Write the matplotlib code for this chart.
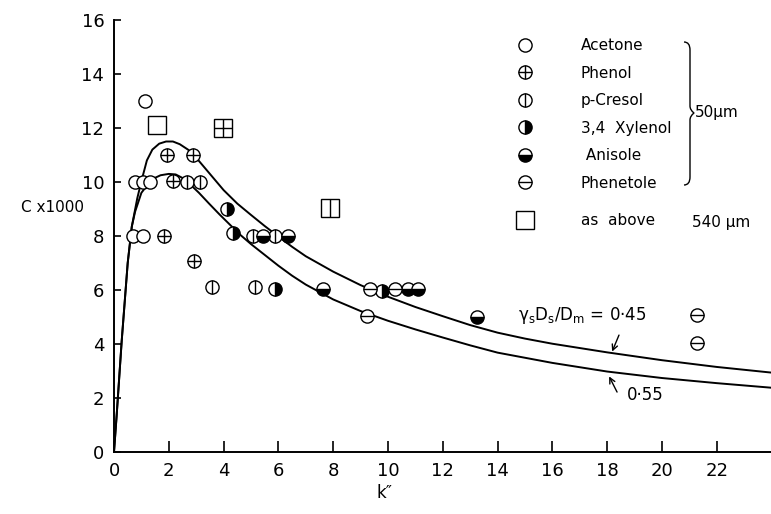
import matplotlib.pyplot as plt
from matplotlib.lines import Line2D
from matplotlib.legend_handler import HandlerTuple
from matplotlib.path import Path
from matplotlib.patches import PathPatch

plt.rcParams['font.family'] = ['DejaVu Sans']

# theory curves
upper_k = [0, 0.1, 0.28, 0.5, 0.65, 0.85, 1.01, 1.2, 1.4, 1.65, 1.9, 2.15, 2.4, 2.7, 3.0, 3.5,
           4.0, 4.5, 5.0, 5.5, 6.0, 6.5, 7.0, 8.0, 9.0, 10.0, 11.0, 12.0, 13.0, 14.0, 15.0,
           16.0, 18.0, 20.0, 22.0, 24.0]
upper_C = [0, 1.4, 4.1, 7.0, 8.35, 9.4, 10.07, 10.8, 11.2, 11.42, 11.5, 11.5, 11.4, 11.2, 10.9, 10.3,
           9.7, 9.2, 8.78, 8.37, 7.98, 7.6, 7.25, 6.68, 6.18, 5.75, 5.37, 5.03, 4.7, 4.42, 4.2,
           4.01, 3.69, 3.4, 3.15, 2.94]
lower_k = [0, 0.1, 0.28, 0.5, 0.65, 0.77, 1.0, 1.38, 1.7, 2.0, 2.25, 2.5, 2.74, 3.1, 3.47, 3.85,
           4.2, 4.6, 5.0, 5.5, 6.0, 6.5, 7.0, 8.0, 9.0, 10.0, 11.0, 12.0, 13.0, 14.0, 16.0,
           18.0, 20.0, 22.0, 24.0]
lower_C = [0, 1.4, 4.1, 7.0, 8.35, 8.9, 9.6, 10.1, 10.25, 10.3, 10.28, 10.15, 9.95, 9.6, 9.2, 8.8,
           8.45, 8.05, 7.7, 7.3, 6.9, 6.53, 6.2, 5.65, 5.22, 4.86, 4.54, 4.24, 3.95, 3.68, 3.3,
           2.98, 2.74, 2.55, 2.38]

# measured points, 50 um
acetone_k = [1.13, 0.77, 1.07, 1.31, 0.68, 1.05]
acetone_C = [13.0, 10.0, 10.0, 10.0, 8.0, 8.0]
phenol_k = [1.94, 2.9, 2.14, 1.82, 2.92]
phenol_C = [11.0, 11.0, 10.05, 8.0, 7.07]
cresol_k = [2.65, 3.14, 3.56, 5.08, 5.88, 5.15]
cresol_C = [10.0, 10.0, 6.1, 8.0, 8.0, 6.1]
xylenol_k = [4.11, 4.35, 5.88, 9.77]
xylenol_C = [9.0, 8.1, 6.05, 5.97]
anisole_k = [5.42, 6.35, 7.63, 10.73, 11.09, 13.25]
anisole_C = [8.0, 8.0, 6.05, 6.05, 6.05, 5.0]
phenetole_k = [9.34, 10.26, 9.23, 21.28, 21.28]
phenetole_C = [6.05, 6.05, 5.04, 5.07, 4.04]

# 540 um points
sq_plain_k, sq_plain_C = [1.58], [12.1]
sq_phenol_k, sq_phenol_C = [3.99], [12.0]
sq_cresol_k, sq_cresol_C = [7.88], [9.05]

W, H = 771, 514
fig = plt.figure(figsize=(W / 100, H / 100), dpi=100)
ax = fig.add_axes([114 / W, 1 - 452 / H, (W - 114) / W, 432 / H])

ax.plot(upper_k, upper_C, color='k', lw=1.4, zorder=2)
ax.plot(lower_k, lower_C, color='k', lw=1.4, zorder=2)

MS = 9.5
SQ = 13
EW = 1.0
z = [3.0]


def pts(k, c, marker='o', ms=MS, overlay=None, fill=None):
    if fill:
        ax.plot(k, c, ls='none', marker=marker, ms=ms, fillstyle=fill, mfc='k',
                markerfacecoloralt='white', mec='k', mew=EW, zorder=z[0])
    else:
        ax.plot(k, c, ls='none', marker=marker, ms=ms, mfc='white', mec='k', mew=EW, zorder=z[0])
    if overlay:
        ax.plot(k, c, ls='none', marker=overlay, ms=ms, mec='k', mew=EW, zorder=z[0] + 0.01)
    z[0] += 0.02


pts(acetone_k, acetone_C)
pts(phenol_k, phenol_C, overlay='+')
pts(cresol_k, cresol_C, overlay='|')
pts(xylenol_k, xylenol_C, fill='right')
pts(anisole_k, anisole_C, fill='bottom')
pts(phenetole_k, phenetole_C, overlay='_')
pts(sq_plain_k, sq_plain_C, marker='s', ms=SQ)
pts(sq_phenol_k, sq_phenol_C, marker='s', ms=SQ, overlay='+')
pts(sq_cresol_k, sq_cresol_C, marker='s', ms=SQ, overlay='|')

ax.set_xlim(0, (W - 114) / 27.4)
ax.set_ylim(0, 16)
ax.set_xticks(range(0, 23, 2))
ax.set_yticks(range(0, 17, 2))
for s in ['top', 'right']:
    ax.spines[s].set_visible(False)
for s in ['left', 'bottom']:
    ax.spines[s].set_linewidth(1.4)
ax.tick_params(axis='x', direction='in', length=8, width=1.2, labelsize=13, pad=7)
ax.tick_params(axis='y', direction='in', length=5, width=1.2, labelsize=13, pad=7)

ax.set_ylabel('C x1000', rotation=0, fontsize=11, ha='center', va='center')
ax.yaxis.set_label_coords(-0.093, 0.565)
ax.set_xlabel('k\u2033', fontsize=12, ha='center', va='center')
ax.xaxis.set_label_coords(0.412, -0.095)

# curve labels
ax.text(14.74, 5.07, r'γ$_{\rm s}$D$_{\rm s}$/D$_{\rm m}$ = 0·45', fontsize=12,
        ha='left', va='center')
ax.annotate('', xy=(18.18, 3.72), xytext=(18.43, 4.33),
            arrowprops=dict(arrowstyle='->', lw=1.0, color='k', shrinkA=0, shrinkB=0))
ax.text(18.72, 2.11, '0·55', fontsize=12, ha='left', va='center')
ax.annotate('', xy=(18.07, 2.8), xytext=(18.36, 2.22),
            arrowprops=dict(arrowstyle='->', lw=1.0, color='k', shrinkA=0, shrinkB=0))


# legend
def h(overlay=None, fill=None, marker='o', ms=MS):
    if fill:
        base = Line2D([], [], ls='none', marker=marker, ms=ms, fillstyle=fill, mfc='k',
                      markerfacecoloralt='white', mec='k', mew=EW)
    else:
        base = Line2D([], [], ls='none', marker=marker, ms=ms, mfc='white', mec='k', mew=EW)
    if overlay:
        return (base, Line2D([], [], ls='none', marker=overlay, ms=ms, mec='k', mew=EW))
    return base


names = ['Acetone', 'Phenol', 'p-Cresol', '3,4  Xylenol', ' Anisole', 'Phenetole']
handles = [h(), h('+'), h('|'), h(fill='right'), h(fill='bottom'), h('_')]
fs = 11
common = dict(frameon=False, fontsize=fs, handlelength=1.0, handletextpad=3.15,
              borderpad=0, borderaxespad=0, bbox_transform=fig.transFigure, loc='upper left',
              handler_map={tuple: HandlerTuple(ndivide=1, pad=0)})
leg1 = ax.legend(handles, names, labelspacing=0.82,
                 bbox_to_anchor=(517.4 / W, 1 - 38 / H), **common)
ax.add_artist(leg1)
leg2 = ax.legend([h(marker='s', ms=SQ)], ['as  above'],
                 bbox_to_anchor=(517.4 / W, 1 - 213 / H), **common)
fig.text(692 / W, 1 - 223 / H, '540 µm', fontsize=fs, ha='left', va='center')
fig.text(695 / W, 1 - 113 / H, '50µm', fontsize=fs, ha='left', va='center')

# brace
bp = [(684, 42), (690, 42), (690, 50), (690, 106), (690, 110), (694, 113),
      (690, 116), (690, 120), (690, 177), (690, 185), (684, 185)]
codes = [Path.MOVETO, Path.CURVE3, Path.CURVE3, Path.LINETO, Path.CURVE3, Path.CURVE3,
         Path.CURVE3, Path.CURVE3, Path.LINETO, Path.CURVE3, Path.CURVE3]
verts = [(x / W, 1 - y / H) for x, y in bp]
fig.add_artist(PathPatch(Path(verts, codes), fc='none', ec='k', lw=1.0,
                         transform=fig.transFigure))

fig.savefig('out.png', dpi=100)
